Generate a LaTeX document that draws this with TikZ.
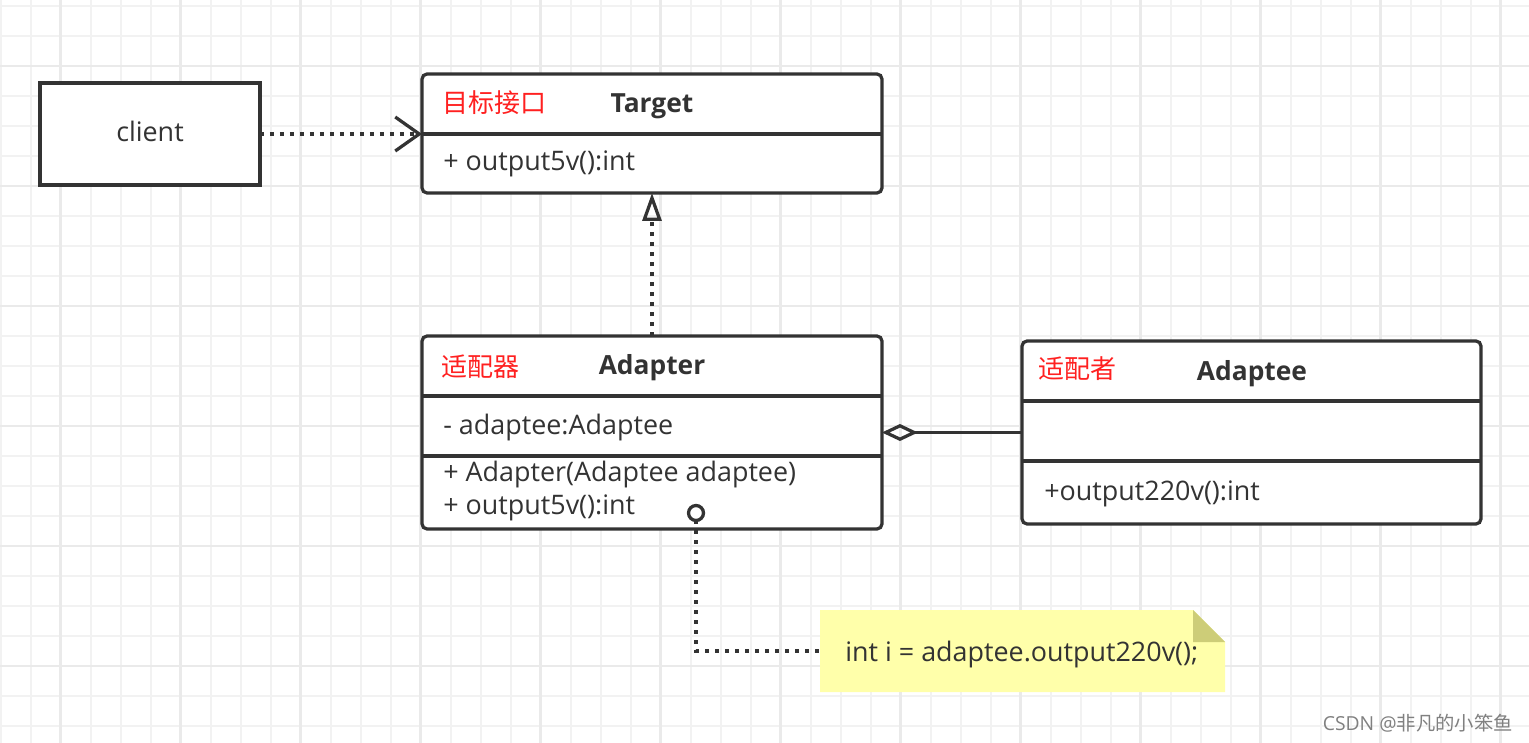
\documentclass[tikz,border=0pt]{standalone}
\usepackage{fontspec}
\setmainfont{Open Sans}
\newfontfamily\cjk{Noto Sans CJK SC}
\usetikzlibrary{arrows.meta}
\definecolor{ink}{HTML}{333333}
\definecolor{gridminor}{HTML}{F2F2F2}
\definecolor{gridmajor}{HTML}{EAEAEA}
\definecolor{notefill}{HTML}{FFFFAA}
\definecolor{notefold}{HTML}{CDCD78}
\definecolor{tagred}{HTML}{FF2020}
\tikzset{
	umlbox/.style={draw=ink, line width=0.065cm, fill=white, rounded corners=0.1cm, outer sep=0pt, inner sep=0pt},
	umlline/.style={draw=ink, line width=0.065cm},
	dotline/.style={draw=ink, line width=0.07cm, dash pattern=on 0.08cm off 0.12cm},
	txt/.style={anchor=base west, inner sep=0pt, text=ink, font=\fontsize{15.3}{18}\selectfont},
	tag/.style={anchor=base west, inner sep=0pt, text=tagred, font=\fontsize{14.8}{18}\selectfont\cjk},
	title/.style={anchor=base, inner sep=0pt, text=ink, font=\fontsize{15}{18}\selectfont\bfseries}
}
\begin{document}
\begin{tikzpicture}[x=0.02cm, y=-0.02cm]
		\fill [white] (0,0) rectangle (1529,743);
		\useasboundingbox (0,0) rectangle (1529,743);
		\foreach \i in {0,...,50}
			\draw [gridminor, line width=0.04cm] (0.7+30*\i,0) -- (0.7+30*\i,743);
		\foreach \i in {0,...,24}
			\draw [gridminor, line width=0.04cm] (0,6+30*\i) -- (1529,6+30*\i);
		\foreach \i in {0,...,12}
			\draw [gridmajor, line width=0.05cm] (60.7+120*\i,0) -- (60.7+120*\i,743);
		\foreach \i in {0,...,5}
			\draw [gridmajor, line width=0.05cm] (0,66+120*\i) -- (1529,66+120*\i);
		\node (client) [umlbox, rounded corners=0pt, minimum width=4.4cm, minimum height=2.04cm] at (150,134) {};
		\node [txt, anchor=base] at (150,142) {client};
		\node (target) [umlbox, minimum width=9.2cm, minimum height=2.38cm] at (652,133.5) {};
		\draw [umlline] (target.west |- 0,134) -- (target.east |- 0,134);
		\node [tag] at (442,113) {目标接口};
		\node [title] at (652,113) {Target};
		\node [txt] at (443,171) {+ output5v():int};
		\node (adapter) [umlbox, minimum width=9.2cm, minimum height=3.86cm] at (652,432.5) {};
		\draw [umlline] (adapter.west |- 0,396) -- (adapter.east |- 0,396);
		\draw [umlline] (adapter.west |- 0,456) -- (adapter.east |- 0,456);
		\node [tag] at (441,377) {适配器};
		\node [title] at (652,375) {Adapter};
		\node [txt] at (443,435) {- adaptee:Adaptee};
		\node [txt] at (443,481) {+ Adapter(Adaptee adaptee)};
		\node [txt] at (443,514) {+ output5v():int};
		\node (adaptee) [umlbox, minimum width=9.18cm, minimum height=3.66cm] at (1251.5,432.5) {};
		\draw [umlline] (adaptee.west |- 0,401) -- (adaptee.east |- 0,401);
		\draw [umlline] (adaptee.west |- 0,461) -- (adaptee.east |- 0,461);
		\node [tag] at (1038,378) {适配者};
		\node [title] at (1252,380) {Adaptee};
		\node [txt] at (1044,500) {+output220v():int};
		\fill [notefill] (820,610) -- (1193,610) -- (1225,642) -- (1225,692) -- (820,692) -- cycle;
		\fill [notefold] (1193,610) -- (1225,642) -- (1193,642) -- cycle;
		\node (note) [minimum width=8.1cm, minimum height=1.64cm, inner sep=0pt, outer sep=0pt] at (1022.5,651) {};
		\node [txt] at (845,661) {int i = adaptee.output220v();};
		\node (joint) [circle, draw=ink, line width=0.065cm, fill=white, minimum size=0.3cm, inner sep=0pt, outer sep=0pt] at (696,513) {};
		\draw [dotline, -{Straight Barb[length=0.48cm, width=0.68cm, line width=0.065cm]}] (client.east) -- (client.east -| target.west);
		\draw [dotline, -{Triangle[open, length=0.56cm, width=0.38cm, line width=0.065cm]}] (adapter.north) -- (target.south);
		\draw [umlline, {Diamond[open, length=0.72cm, width=0.34cm, line width=0.065cm]}-] (adapter.east) -- (adaptee.west);
		\draw [dotline] (joint.south) -- (joint.south |- note.west) -- (note.west);
		\node [anchor=base east, inner sep=0pt, text=gray, font=\fontsize{11}{13}\selectfont] at (1513,730) {CSDN @{\cjk 非凡的小笨鱼}};
	\end{tikzpicture}
\end{document}
